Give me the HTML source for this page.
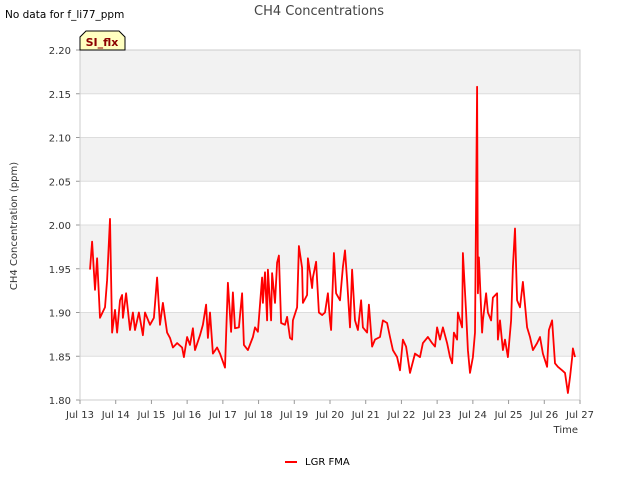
<!DOCTYPE html>
<html><head><meta charset="utf-8"><style>
body{margin:0;background:#fff;font-family:"Liberation Sans","DejaVu Sans",sans-serif}
svg text{font-family:"DejaVu Sans","Liberation Sans",sans-serif}
</style></head><body>
<svg id="chart" width="640" height="480" xmlns="http://www.w3.org/2000/svg">
<rect width="640" height="480" fill="#fff"/>
<text x="5" y="18" font-size="10.5" fill="#000">No data for f_li77_ppm</text>
<text x="319" y="15" font-size="13" fill="#444" text-anchor="middle">CH4 Concentrations</text>
<g id="plot"></g>
<g>
<path d="M80,50 L80,37 L86,31 L119,31 L125,37 L125,50 Z" fill="#ffffc0" stroke="#000" stroke-width="1"/>
<text x="102" y="46" font-size="11" font-weight="bold" fill="#8b0000" text-anchor="middle">SI_flx</text>
</g>
<text transform="translate(17,226) rotate(-90)" font-size="10" fill="#333" text-anchor="middle">CH4 Concentration (ppm)</text>
<text x="578" y="433" font-size="10" fill="#333" text-anchor="end">Time</text>
<g>
<line x1="285" y1="462" x2="297" y2="462" stroke="#f00" stroke-width="2"/>
<text x="305" y="465" font-size="10" fill="#000">LGR FMA</text>
</g>
</svg>
<script>
const days=[0.28,0.34,0.42,0.48,0.56,0.70,0.76,0.84,0.90,0.98,1.04,1.12,1.18,1.20,1.29,1.40,1.48,1.54,1.65,1.76,1.82,1.96,2.07,2.16,2.24,2.32,2.44,2.52,2.60,2.72,2.86,2.91,3.00,3.08,3.16,3.22,3.36,3.44,3.53,3.58,3.64,3.72,3.84,3.92,4.06,4.14,4.23,4.28,4.34,4.45,4.54,4.59,4.70,4.84,4.90,4.98,5.10,5.12,5.18,5.24,5.26,5.35,5.38,5.46,5.52,5.57,5.63,5.74,5.80,5.88,5.94,5.96,6.08,6.13,6.22,6.24,6.36,6.38,6.44,6.50,6.52,6.61,6.69,6.78,6.86,6.94,7.00,7.03,7.11,7.17,7.28,7.36,7.42,7.48,7.56,7.62,7.70,7.78,7.87,7.92,8.04,8.09,8.18,8.26,8.40,8.48,8.60,8.68,8.76,8.88,8.96,9.04,9.13,9.24,9.38,9.52,9.60,9.74,9.86,9.94,10.00,10.08,10.16,10.28,10.36,10.42,10.47,10.56,10.58,10.70,10.72,10.81,10.86,10.92,11.00,11.06,11.12,11.14,11.17,11.26,11.28,11.37,11.42,11.51,11.56,11.68,11.70,11.76,11.84,11.90,11.98,12.07,12.12,12.18,12.24,12.32,12.40,12.52,12.60,12.68,12.80,12.88,12.96,13.08,13.13,13.22,13.30,13.38,13.50,13.58,13.66,13.72,13.78,13.80,13.86];
const ch4=[1.949,1.981,1.926,1.962,1.894,1.906,1.937,2.007,1.877,1.903,1.877,1.914,1.92,1.894,1.922,1.88,1.9,1.88,1.9,1.874,1.9,1.886,1.894,1.94,1.886,1.911,1.877,1.871,1.86,1.865,1.86,1.849,1.872,1.863,1.882,1.857,1.874,1.886,1.909,1.871,1.9,1.853,1.86,1.853,1.837,1.934,1.878,1.923,1.882,1.883,1.922,1.863,1.857,1.872,1.883,1.878,1.94,1.911,1.946,1.891,1.949,1.891,1.945,1.911,1.957,1.965,1.888,1.886,1.895,1.871,1.869,1.891,1.906,1.976,1.951,1.911,1.92,1.962,1.946,1.928,1.94,1.958,1.9,1.897,1.9,1.922,1.891,1.88,1.968,1.922,1.914,1.952,1.971,1.937,1.883,1.949,1.891,1.88,1.914,1.883,1.877,1.909,1.861,1.869,1.872,1.891,1.888,1.872,1.857,1.849,1.834,1.869,1.861,1.831,1.853,1.849,1.865,1.872,1.865,1.861,1.883,1.869,1.883,1.865,1.849,1.842,1.877,1.869,1.9,1.883,1.968,1.9,1.857,1.831,1.849,1.877,2.158,1.922,1.963,1.877,1.891,1.922,1.9,1.891,1.917,1.922,1.869,1.891,1.857,1.869,1.849,1.891,1.952,1.996,1.914,1.906,1.935,1.883,1.872,1.857,1.865,1.872,1.853,1.838,1.88,1.891,1.842,1.838,1.834,1.831,1.808,1.826,1.848,1.859,1.849];
const yTicks=[1.80,1.85,1.90,1.95,2.00,2.05,2.10,2.15,2.20];
const xTickLabels=["Jul 13","Jul 14","Jul 15","Jul 16","Jul 17","Jul 18","Jul 19","Jul 20","Jul 21","Jul 22","Jul 23","Jul 24","Jul 25","Jul 26","Jul 27"];
const X0=80,X1=580,Y0=400,Y1=50,YMIN=1.8,YMAX=2.2,DMAX=14;
const xs=d=>X0+(X1-X0)*d/DMAX;
const ys=v=>Y0-(Y0-Y1)*(v-YMIN)/(YMAX-YMIN);
const NS="http://www.w3.org/2000/svg";
const g=document.getElementById('plot');
function mk(t,a){const e=document.createElementNS(NS,t);for(const k in a)e.setAttribute(k,a[k]);g.appendChild(e);return e;}
for(let i=0;i<yTicks.length-1;i++){
 if(i%2===1){const r=mk('rect',{x:X0,y:ys(yTicks[i+1]),width:X1-X0,height:ys(yTicks[i])-ys(yTicks[i+1]),fill:'#f2f2f2'});
 
 }
}
yTicks.forEach(v=>{
 const l=mk('line',{x1:X0,x2:X1,y1:ys(v),y2:ys(v),stroke:'#ddd','stroke-width':1});
 
 
 const t=mk('text',{x:X0-9,y:ys(v)+4,'font-size':10,fill:'#333','text-anchor':'end'});
 
 
 t.textContent=v.toFixed(2);
 mk('line',{x1:X0-4,x2:X0,y1:ys(v),y2:ys(v),stroke:'#999'});
});
mk('rect',{x:X0,y:Y1,width:X1-X0,height:Y0-Y1,fill:'none',stroke:'#ccc'});
xTickLabels.forEach((s,i)=>{
 mk('line',{x1:xs(i),x2:xs(i),y1:Y0,y2:Y0+4,stroke:'#999'});
 const t=mk('text',{x:xs(i),y:Y0+18,'font-size':10,fill:'#333','text-anchor':'middle'});
 
 
 t.textContent=s;
});
const p=mk('polyline',{points:days.map((d,i)=>xs(d).toFixed(1)+','+ys(ch4[i]).toFixed(1)).join(' '),fill:'none',stroke:'#f00','stroke-width':1.8,'stroke-linejoin':'round'});


</script>
</body></html>
